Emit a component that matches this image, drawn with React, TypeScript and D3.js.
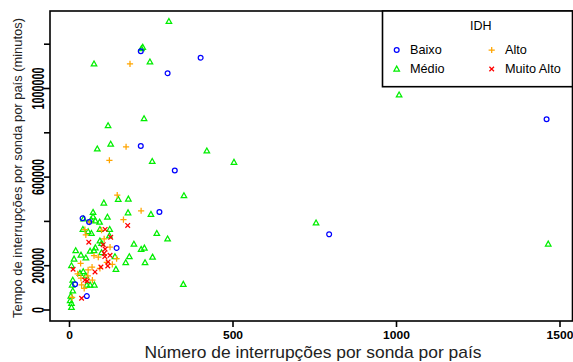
import React from "react";
import * as d3 from "d3";

// Interruptions per probe per country, grouped by HDI class (IDH)
const baixo: [number, number][] = [
  [218, 1168000], [300, 1069000], [401, 1139000], [1459, 861000], [218, 740000],
  [322, 630000], [275, 442000], [40, 414000], [60, 397000], [144, 280000],
  [794, 342000], [17, 116000], [53, 63000],
];

const medio: [number, number][] = [
  [304, 1303000], [224, 1186000], [220, 1180000], [75, 1111000], [246, 1120000],
  [1008, 971000], [228, 864000], [118, 832000], [85, 727000], [126, 749000],
  [420, 718000], [253, 671000], [503, 667000], [350, 516000], [149, 500000],
  [180, 501000], [105, 483000], [249, 432000], [179, 439000], [72, 441000],
  [116, 419000], [43, 411000], [72, 421000], [66, 408000], [92, 397000],
  [41, 364000], [57, 354000], [67, 346000], [93, 364000], [123, 364000],
  [122, 335000], [267, 346000], [300, 321000], [93, 312000], [79, 281000],
  [75, 268000], [197, 297000], [219, 274000], [229, 280000], [183, 241000],
  [172, 214000], [231, 214000], [254, 239000], [348, 116000], [19, 268000],
  [35, 248000], [50, 235000], [14, 230000], [6, 200000], [63, 266000],
  [98, 259000], [139, 241000], [142, 184000], [42, 173000], [32, 166000],
  [50, 154000], [53, 113000], [63, 113000], [76, 113000], [10, 135000],
  [8, 113000], [10, 86000], [4, 63000], [2, 42000], [6, 30000], [6, 12000],
  [754, 393000], [1464, 298000], [79, 403000], [98, 301000],
];

const alto: [number, number][] = [
  [185, 1111000], [173, 737000], [122, 676000], [146, 519000], [219, 448000],
  [165, 408000], [61, 397000], [47, 363000], [50, 339000], [98, 360000],
  [106, 321000], [124, 284000], [34, 210000], [75, 245000], [88, 239000],
  [144, 232000], [114, 215000], [131, 206000], [69, 194000], [57, 181000],
  [56, 154000], [35, 144000], [70, 135000], [37, 113000], [45, 98000],
  [8, 57000], [93, 188000], [25, 163000],
];

const muitoAlto: [number, number][] = [
  [178, 382000], [59, 306000], [109, 364000], [126, 328000], [103, 295000],
  [109, 275000], [11, 184000], [106, 256000], [108, 241000], [124, 247000],
  [118, 217000], [96, 194000], [78, 172000], [47, 135000], [54, 131000],
  [37, 53000], [117, 199000],
];

const xTicks = [0, 500, 1000, 1500];
const yTicks = [0, 200000, 400000, 600000, 800000, 1000000, 1200000];
const yTickLabels = [0, 200000, 600000, 1000000];

const W = 573;
const H = 362;
const box = { left: 50, right: 572.5, top: 11, bottom: 321 };

const FONT = "'Liberation Sans', Arial, Helvetica, sans-serif";

const x = d3.scaleLinear().domain([0, 1500]).range([69.5, 560]);
const y = d3.scaleLinear().domain([0, 1200000]).range([310, 44.2]);

type Shape = "circle" | "triangle" | "plus" | "cross";

function markerPath(shape: Shape, cx: number, cy: number): string {
  const p = d3.path();
  if (shape === "circle") {
    const r = 2.4;
    p.moveTo(cx + r, cy);
    p.arc(cx, cy, r, 0, Math.PI * 2);
  } else if (shape === "triangle") {
    const h = 2.9;
    p.moveTo(cx, cy - h);
    p.lineTo(cx + h * 0.95, cy + h * 0.7);
    p.lineTo(cx - h * 0.95, cy + h * 0.7);
    p.closePath();
  } else if (shape === "plus") {
    const s = 3.1;
    p.moveTo(cx - s, cy);
    p.lineTo(cx + s, cy);
    p.moveTo(cx, cy - s);
    p.lineTo(cx, cy + s);
  } else {
    const s = 2.3;
    p.moveTo(cx - s, cy - s);
    p.lineTo(cx + s, cy + s);
    p.moveTo(cx - s, cy + s);
    p.lineTo(cx + s, cy - s);
  }
  return p.toString();
}

const series: { name: string; data: [number, number][]; shape: Shape; color: string }[] = [
  { name: "Médio", data: medio, shape: "triangle", color: "#00ee00" },
  { name: "Alto", data: alto, shape: "plus", color: "#ffa500" },
  { name: "Muito Alto", data: muitoAlto, shape: "cross", color: "#ff0000" },
  { name: "Baixo", data: baixo, shape: "circle", color: "#0000ff" },
];

const legendItems: { name: string; shape: Shape; color: string; col: number; row: number }[] = [
  { name: "Baixo", shape: "circle", color: "#0000ff", col: 0, row: 0 },
  { name: "Médio", shape: "triangle", color: "#00ee00", col: 0, row: 1 },
  { name: "Alto", shape: "plus", color: "#ffa500", col: 1, row: 0 },
  { name: "Muito Alto", shape: "cross", color: "#ff0000", col: 1, row: 1 },
];

export default function App() {
  const legend = { left: 382.5, top: box.top, right: box.right, bottom: 86.7 };
  const legCols = [396.7, 491.7];
  const legRows = [50, 69];

  return (
    <svg
      width={W}
      height={H}
      viewBox={`0 0 ${W} ${H}`}
      style={{ position: "absolute", left: 0, top: 0, background: "#fff" }}
      fontFamily={FONT}
    >
      <rect x={0} y={0} width={W} height={H} fill="#fff" />

      {/* points */}
      {series.map((s) => (
        <g key={s.name} fill="none" stroke={s.color} strokeWidth={1.25}>
          {s.data.map((d, i) => (
            <path key={i} d={markerPath(s.shape, x(d[0]), y(d[1]))} />
          ))}
        </g>
      ))}

      {/* plot frame */}
      <rect
        x={box.left}
        y={box.top}
        width={box.right - box.left}
        height={box.bottom - box.top}
        fill="none"
        stroke="#000"
        strokeWidth={1.6}
      />

      {/* x axis */}
      <g>
        {xTicks.map((t) => (
          <g key={t}>
            <line x1={x(t)} x2={x(t)} y1={box.bottom} y2={box.bottom + 6} stroke="#000" strokeWidth={1.6} />
            <text
              x={x(t)}
              y={339}
              textAnchor="middle"
              fontSize={10}
              fontWeight="bold"
              textLength={String(t).length * 6.7}
              lengthAdjust="spacingAndGlyphs"
            >
              {t}
            </text>
          </g>
        ))}
      </g>

      {/* y axis */}
      <g>
        {yTicks.map((t) => (
          <line key={t} x1={box.left - 6} x2={box.left} y1={y(t)} y2={y(t)} stroke="#000" strokeWidth={1.6} />
        ))}
        {yTickLabels.map((t) => (
          <text
            key={t}
            transform={`translate(43.5, ${y(t)}) rotate(-90)`}
            textAnchor="middle"
            fontSize={17}
            fontWeight="bold"
            textLength={String(t).length * 6}
            lengthAdjust="spacingAndGlyphs"
          >
            {t}
          </text>
        ))}
      </g>

      {/* axis titles */}
      <text
        x={313}
        y={358}
        textAnchor="middle"
        fontSize={17}
        textLength={337}
        lengthAdjust="spacingAndGlyphs"
        fill="#222"
      >
        Número de interrupções por sonda por país
      </text>
      <text
        transform={`translate(22, 168) rotate(-90)`}
        textAnchor="middle"
        fontSize={13}
        textLength={300}
        lengthAdjust="spacingAndGlyphs"
        fill="#222"
      >
        Tempo de interrupções por sonda por país (minutos)
      </text>

      {/* legend */}
      <g>
        <rect
          x={legend.left}
          y={legend.top}
          width={legend.right - legend.left}
          height={legend.bottom - legend.top}
          fill="#fff"
          stroke="#000"
          strokeWidth={1.6}
        />
        <text x={480.7} y={30} textAnchor="middle" fontSize={12.5}>
          IDH
        </text>
        {legendItems.map((it) => {
          const cx = legCols[it.col];
          const cy = legRows[it.row];
          return (
            <g key={it.name}>
              <path d={markerPath(it.shape, cx, cy)} fill="none" stroke={it.color} strokeWidth={1.25} />
              <text x={cx + 13.3} y={cy + 4.3} fontSize={12.7}>
                {it.name}
              </text>
            </g>
          );
        })}
      </g>
    </svg>
  );
}
